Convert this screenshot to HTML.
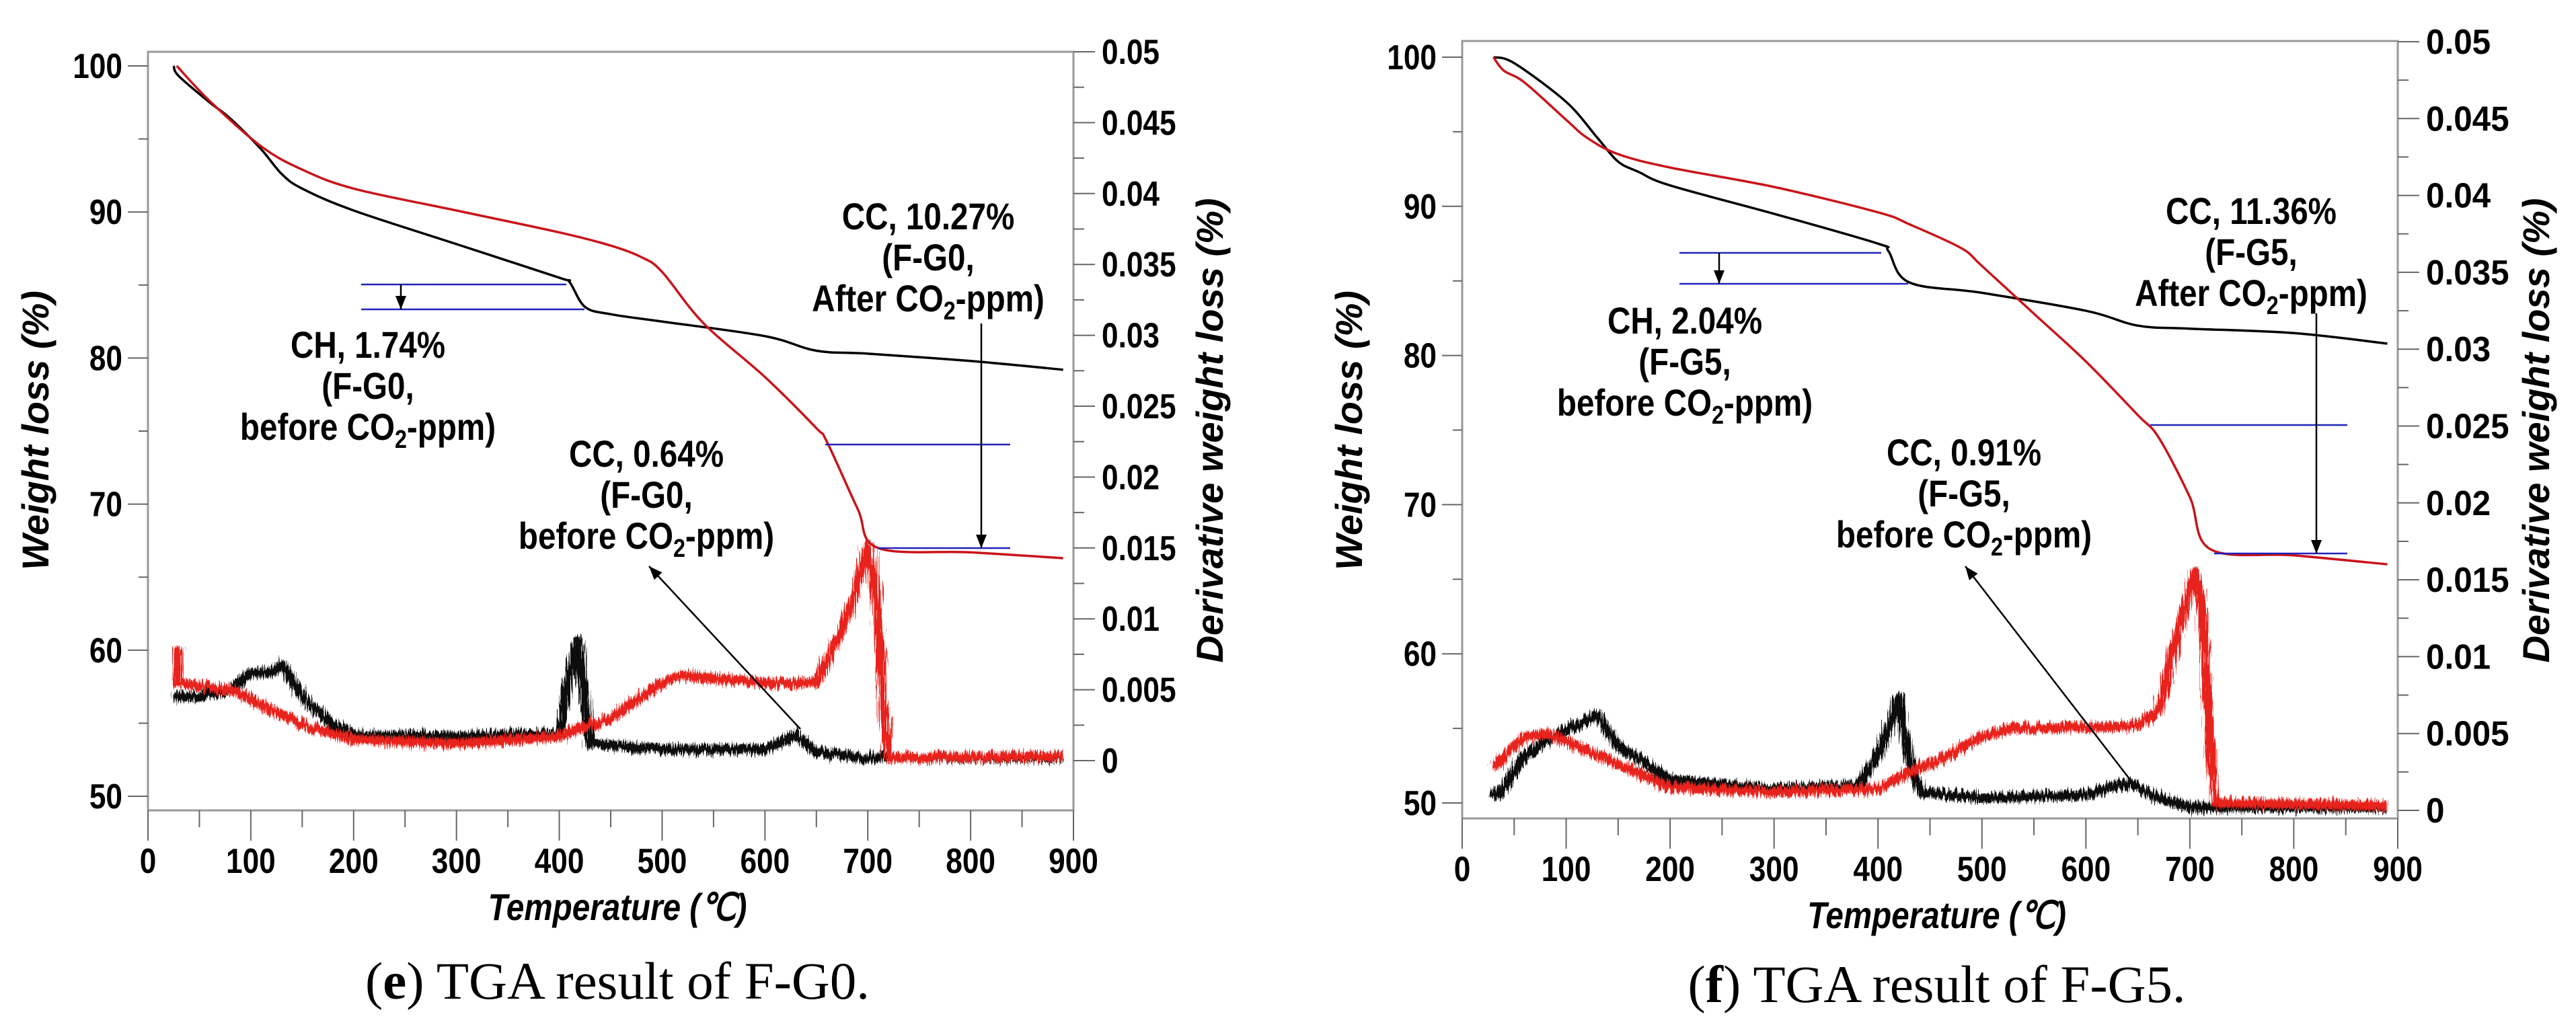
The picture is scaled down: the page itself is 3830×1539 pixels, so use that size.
<!DOCTYPE html>
<html><head><meta charset="utf-8"><style>
html,body{margin:0;padding:0;background:#fff;}
svg{display:block;}
</style></head><body>
<svg id="svg" width="3830" height="1539" viewBox="0 0 3830 1539" xmlns="http://www.w3.org/2000/svg">
<defs>
<filter id="noise" x="-5%" y="-20%" width="110%" height="140%">
<feTurbulence type="fractalNoise" baseFrequency="0.6 0.02" numOctaves="2" seed="3" result="t"/>
<feDisplacementMap in="SourceGraphic" in2="t" scale="22" xChannelSelector="R" yChannelSelector="G"/>
</filter>
</defs>
<rect width="3830" height="1539" fill="#ffffff"/>
</svg>
<script>
// ---- data: chart (e) F-G0 ----
const eBlackTG_T = [25,30,60,80,110,130,150,200,300,400,410,425,450,500,600,650,700,800,890];
const eBlackTG_W = [100,99.3,97.5,96.4,94.3,92.6,91.6,90.1,87.8,85.5,85.2,83.5,83.0,82.5,81.5,80.5,80.3,79.8,79.2];
const eRedTG_T = [28,60,110,150,200,300,400,450,480,500,540,600,650,660,690,710,800,890];
const eRedTG_W = [100,97.6,94.5,92.9,91.6,90.1,88.6,87.7,86.9,85.9,82.4,78.7,75.2,74.3,69.7,67.0,66.7,66.3];
const eBlackDTG_T = [25,50,80,100,120,130,150,180,200,300,400,410,418,425,430,500,600,630,650,700,890];
const eBlackDTG_V = [0.0045,0.0045,0.005,0.0062,0.0062,0.0068,0.0045,0.0025,0.0018,0.0017,0.0019,0.006,0.0085,0.004,0.0012,0.0008,0.0008,0.0018,0.0006,0.0002,0.0002];
const eRedDTG_T = [28,30,80,150,200,300,400,450,500,520,600,650,680,700,708,715,720,890];
const eRedDTG_V = [0.008,0.0055,0.005,0.0025,0.0015,0.0012,0.0017,0.003,0.0055,0.006,0.0055,0.0055,0.010,0.0152,0.012,0.004,0.0002,0.0003];
// ---- data: chart (f) F-G5 ----
const fBlackTG_T = [30,50,100,130,150,170,200,300,400,410,430,500,600,650,700,800,890];
const fBlackTG_W = [100,99.6,97,94.6,93,92.3,91.4,89.5,87.5,87,84.9,84.2,83,82,81.8,81.5,80.8];
const fRedTG_T = [30,40,60,100,120,150,200,300,400,430,480,500,550,600,650,670,700,720,800,890];
const fRedTG_W = [100,99.1,98.3,95.8,94.6,93.5,92.6,91.3,89.6,88.8,87.2,86,82.8,79.6,76,74.5,70.5,67,66.6,66];
const fBlackDTG_T = [30,40,60,80,100,130,150,200,300,380,400,420,430,440,500,600,640,670,700,890];
const fBlackDTG_V = [0.0008,0.0015,0.0035,0.0045,0.0052,0.0062,0.0042,0.002,0.0014,0.0016,0.0035,0.0073,0.0035,0.0012,0.0008,0.001,0.0018,0.0008,0.0002,0.0002];
const fRedDTG_T = [30,60,80,100,150,200,300,400,430,450,500,530,650,670,690,705,712,720,725,890];
const fRedDTG_V = [0.0028,0.0048,0.005,0.0045,0.003,0.0015,0.0012,0.0014,0.0025,0.003,0.0048,0.0053,0.0055,0.0065,0.012,0.0155,0.013,0.004,0.0005,0.0003];
const xTicks = [0,100,200,300,400,500,600,700,800,900];
const yTicks = [50,60,70,80,90,100];
const y2Ticks = ['0','0.005','0.01','0.015','0.02','0.025','0.03','0.035','0.04','0.045','0.05'];

const NS='http://www.w3.org/2000/svg';
const svg=document.getElementById('svg');
function mk(tag,attrs,parent){const e=document.createElementNS(NS,tag);for(const k in attrs)e.setAttribute(k,attrs[k]);(parent||svg).appendChild(e);return e;}
function txt(parent,x,y,s,size,opts){
  opts=opts||{};
  const g=mk('g',{transform:`translate(${x},${y}) scale(${opts.sx||1},1)`+(opts.rot?` rotate(${opts.rot})`:'')},parent);
  const t=mk('text',{x:0,y:0,'font-family':opts.serif?'"Liberation Serif", serif':'"Liberation Sans", sans-serif','font-size':size,'font-weight':opts.weight||'bold','font-style':opts.italic?'italic':'normal','text-anchor':opts.anchor||'middle',fill:'#000'},g);
  if(opts.len){t.setAttribute('textLength',opts.len);t.setAttribute('lengthAdjust','spacingAndGlyphs');}
  if(opts.html)t.innerHTML=s;else t.textContent=s;
  return t;
}
function smoothPath(pts){
  let d='M'+pts[0][0].toFixed(1)+','+pts[0][1].toFixed(1);
  for(let i=0;i<pts.length-1;i++){
    const p0=pts[Math.max(0,i-1)],p1=pts[i],p2=pts[i+1],p3=pts[Math.min(pts.length-1,i+2)];
    const c1=[p1[0]+(p2[0]-p0[0])/6,p1[1]+(p2[1]-p0[1])/6];
    const c2=[p2[0]-(p3[0]-p1[0])/6,p2[1]-(p3[1]-p1[1])/6];
    d+=` C${c1[0].toFixed(1)},${c1[1].toFixed(1)} ${c2[0].toFixed(1)},${c2[1].toFixed(1)} ${p2[0].toFixed(1)},${p2[1].toFixed(1)}`;
  }
  return d;
}
function buildChart(c){
  const g=mk('g',{});
  
  
  const X=t=>c.x0+(c.x1-c.x0)*t/900;
  const Y=w=>c.y100+(c.y50-c.y100)*(100-w)/50;
  const Y2=v=>c.d0+(c.d5-c.d0)*v/0.05;
  const fr=mk('path',{d:`M${c.x0},${c.bot} V${c.top} H${c.x1} V${c.bot} H${c.x0}`,fill:'none',stroke:'#999','stroke-width':3},g);
  
  const xa=mk('g',{},g);
  for(let t=0;t<=900;t+=50){const maj=t%100===0;mk('line',{x1:X(t),x2:X(t),y1:c.bot,y2:c.bot+(maj?45:25),stroke:'#666','stroke-width':2},xa);}
  xTicks.forEach(t=>{const e=txt(xa,X(t),c.xl,String(t),52,{sx:0.85});});
  const ya=mk('g',{},g);
  for(let w=50;w<=100;w+=5){const maj=w%10===0;mk('line',{x1:c.x0-(maj?30:14),x2:c.x0,y1:Y(w),y2:Y(w),stroke:'#666','stroke-width':2},ya);}
  yTicks.forEach(w=>{const e=txt(ya,c.x0-38,Y(w)+18,String(w),52,{sx:0.85,anchor:'end'});});
  const y2a=mk('g',{},g);
  for(let i=0;i<=20;i++){const v=i*0.0025;const maj=i%2===0;mk('line',{x1:c.x1,x2:c.x1+(maj?32:16),y1:Y2(v),y2:Y2(v),stroke:'#666','stroke-width':2},y2a);}
  y2Ticks.forEach(s=>{const e=txt(y2a,c.x1+42,Y2(parseFloat(s))+18,s,52,{sx:c.rsx,anchor:'start'});});
  let e=txt(g,c.ytx,c.tyc,'Weight loss (%)',56,{italic:true,rot:-90});
  e=txt(g,c.y2tx,c.tyc,'Derivative weight loss (%)',56,{italic:true,rot:-90});
  e=txt(g,(c.x0+c.x1)/2+10,c.xt,'Temperature (℃)',56,{italic:true,sx:0.85});
  e=txt(g,(c.x0+c.x1)/2+10,c.cap,c.caption,78,{serif:true,weight:'normal',html:true,len:c.capLen});
  function line(T,V,fn,color,w,name,noisy){
    let d;
    if(noisy) d=T.map((t,i)=>(i?'L':'M')+X(t).toFixed(1)+','+fn(V[i]).toFixed(1)).join(' ');
    else d=smoothPath(T.map((t,i)=>[X(t),fn(V[i])]));
    const p=mk('path',{d,fill:'none',stroke:color,'stroke-width':w,'stroke-linejoin':'round'},g);
    if(noisy)p.setAttribute('filter','url(#noise)');
    
  }
  line(c.bDT,c.bDV,Y2,'#111',14,'black-dtg-series',true);
  line(c.rDT,c.rDV,Y2,'#e8231c',14,'red-dtg-series',true);
  line(c.bTT,c.bTW,Y,'#000',3.5,'black-tg-series');
  line(c.rTT,c.rTW,Y,'#c8141a',3.5,'red-tg-series');
  const an=mk('g',{},g);
  c.blue.forEach(b=>mk('line',{x1:b[0],x2:b[1],y1:b[2],y2:b[2],stroke:'#2222bb','stroke-width':2.5},an));
  c.arrows.forEach(a=>{
    mk('line',{x1:a[0],y1:a[1],x2:a[2],y2:a[3],stroke:'#000','stroke-width':2.5},an);
    const ang=Math.atan2(a[3]-a[1],a[2]-a[0]);const L=20,W=8;
    const bx=a[2]-L*Math.cos(ang),by=a[3]-L*Math.sin(ang);
    mk('polygon',{points:`${a[2]},${a[3]} ${bx-W*Math.sin(ang)},${by+W*Math.cos(ang)} ${bx+W*Math.sin(ang)},${by-W*Math.cos(ang)}`,fill:'#000'},an);
  });
  c.labels.forEach(l=>l[2].forEach((s,i)=>{const t=txt(an,l[0],l[1]+i*61,s,56,{sx:0.85,html:true});}));
}
const co2='before CO<tspan font-size="38" dy="12">2</tspan><tspan dy="-12">-ppm)</tspan>';
const co2a='After CO<tspan font-size="38" dy="12">2</tspan><tspan dy="-12">-ppm)</tspan>';
buildChart({name:'chart-e-f-g0',x0:220,x1:1596,top:77,bot:1205,y100:98,y50:1184,d0:1131,d5:77,xl:1298,xt:1368,cap:1485,capLen:750,rsx:0.85,
 ytx:72,y2tx:1818,tyc:640,caption:'(<tspan font-weight="bold">e</tspan>) TGA result of F-G0.',
 bTT:eBlackTG_T,bTW:eBlackTG_W,rTT:eRedTG_T,rTW:eRedTG_W,bDT:eBlackDTG_T,bDV:eBlackDTG_V,rDT:eRedDTG_T,rDV:eRedDTG_V,
 blue:[[537,842,423],[537,869,460],[1227,1502,661],[1306,1502,815]],
 arrows:[[596,423,596,460],[1459,481,1459,815],[1190,1084,965,842]],
 labels:[[547,532,['CH, 1.74%','(F-G0,',co2]],[1380,341,['CC, 10.27%','(F-G0,',co2a]],[961,694,['CC, 0.64%','(F-G0,',co2]]]});
buildChart({name:'chart-f-f-g5',x0:2174,x1:3565,top:61,bot:1217,y100:85,y50:1194,d0:1205,d5:62,xl:1310,xt:1380,cap:1490,capLen:740,rsx:0.95,
 ytx:2025,y2tx:3790,tyc:640,caption:'(<tspan font-weight="bold">f</tspan>) TGA result of F-G5.',
 bTT:fBlackTG_T,bTW:fBlackTG_W,rTT:fRedTG_T,rTW:fRedTG_W,bDT:fBlackDTG_T,bDV:fBlackDTG_V,rDT:fRedDTG_T,rDV:fRedDTG_V,
 blue:[[2497,2797,376],[2497,2837,422],[3197,3490,632],[3292,3490,823]],
 arrows:[[2556,376,2556,422],[3444,466,3444,823],[3166,1158,2922,842]],
 labels:[[2505,496,['CH, 2.04%','(F-G5,',co2]],[3347,333,['CC, 11.36%','(F-G5,',co2a]],[2920,692,['CC, 0.91%','(F-G5,',co2]]]});
</script>
</body></html>
